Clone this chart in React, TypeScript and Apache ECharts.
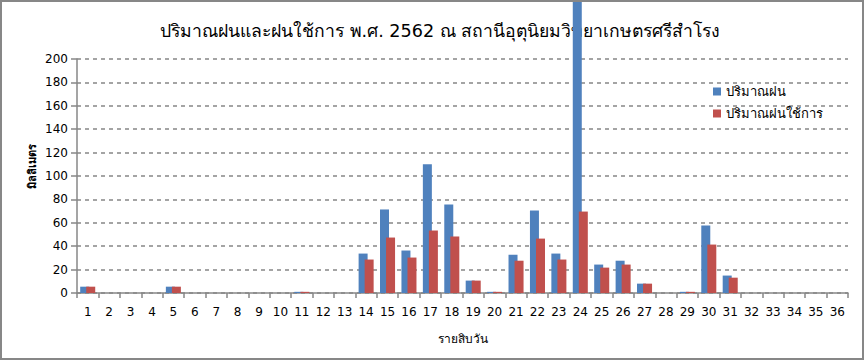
import React, { useEffect, useRef } from "react";
import * as echarts from "echarts";

const titleText = "ปริมาณฝนและฝนใช้การ พ.ศ. 2562 ณ สถานีอุตุนิยมวิทยาเกษตรศรีสำโรง";
const seriesNames = ["ปริมาณฝน", "ปริมาณฝนใช้การ"];
const xName = "รายสิบวัน";
const yName = "มิลลิเมตร";
const periods = Array.from({ length: 36 }, (_, i) => String(i + 1));
const rainfall = [5.4, 0, 0, 0, 5.4, 0, 0, 0, 0, 0, 1, 0, 0, 33.7, 71.4, 36.3, 110, 75.7, 10.6, 1, 32.6, 70.5, 33.7, 251, 24.3, 27.6, 8, 0, 1, 57.7, 14.9, 0, 0, 0, 0, 0];
const effectiveRain = [5.4, 0, 0, 0, 5.4, 0, 0, 0, 0, 0, 1, 0, 0, 28.6, 47.4, 30.3, 53.4, 48.3, 10.6, 1, 27.6, 46.5, 28.6, 69.6, 21.7, 24.3, 8, 0, 1, 41.4, 13.1, 0, 0, 0, 0, 0];

const FONT = "Tahoma, 'DejaVu Sans', 'Noto Sans', sans-serif";

export default function App() {
  const ref = useRef<HTMLDivElement>(null);
  useEffect(() => {
    document.body.style.margin = "0";
    const chart = echarts.init(ref.current!, null, { renderer: "svg" });
    chart.setOption({
      animation: false,
      backgroundColor: "#fff",
      textStyle: { fontFamily: FONT },
      title: {
        text: titleText,
        left: 155,
        top: 17,
        textStyle: { fontFamily: FONT, fontSize: 17.6, fontWeight: "normal", color: "#000" },
      },
      legend: {
        orient: "vertical",
        left: 708,
        top: 80,
        icon: "rect",
        itemWidth: 8,
        itemHeight: 8,
        itemGap: 9,
        textStyle: { fontFamily: FONT, fontSize: 13, color: "#000" },
        data: seriesNames,
      },
      grid: { left: 77, right: 16, top: 59, bottom: 68 },
      xAxis: {
        type: "category",
        data: periods,
        name: xName,
        nameLocation: "middle",
        nameGap: 40,
        nameTextStyle: { fontFamily: FONT, fontSize: 12, color: "#000" },
        axisLine: { lineStyle: { color: "#878787", width: 1.5 } },
        axisTick: { show: true, length: 5, lineStyle: { color: "#878787", width: 1.5 } },
        axisLabel: { fontFamily: FONT, fontSize: 12, color: "#000", margin: 13, interval: 0 },
        splitLine: { show: false },
      },
      yAxis: {
        type: "value",
        min: 0,
        max: 200,
        interval: 20,
        axisLine: { show: true, lineStyle: { color: "#878787", width: 1.5 } },
        axisTick: { show: true, length: 6, lineStyle: { color: "#878787", width: 1.5 } },
        axisLabel: { fontFamily: FONT, fontSize: 12, color: "#000", margin: 9 },
        splitLine: { show: true, lineStyle: { color: "#878787", type: [4, 4], width: 1.5 } },
      },
      graphic: [
        {
          type: "text",
          x: 32,
          y: 166,
          rotation: Math.PI / 2,
          style: {
            text: yName,
            fontFamily: FONT,
            fontSize: 11,
            fontWeight: "bold",
            fill: "#000",
            align: "center",
            verticalAlign: "middle",
          },
        },
        {
          type: "rect",
          z: 100,
          shape: { x: 1, y: 1, width: 862, height: 358 },
          style: { fill: "none", stroke: "#878787", lineWidth: 2 },
        },
      ],
      series: [
        {
          name: seriesNames[0],
          type: "bar",
          data: rainfall,
          barWidth: 9,
          barGap: "-33%",
          clip: false,
          z: 10,
          itemStyle: { color: "#4F81BD" },
        },
        {
          name: seriesNames[1],
          type: "bar",
          data: effectiveRain,
          barWidth: 9,
          clip: false,
          z: 11,
          itemStyle: { color: "#C0504D" },
        },
      ],
    });
    return () => chart.dispose();
  }, []);
  return <div ref={ref} style={{ width: 864, height: 361 }} />;
}
